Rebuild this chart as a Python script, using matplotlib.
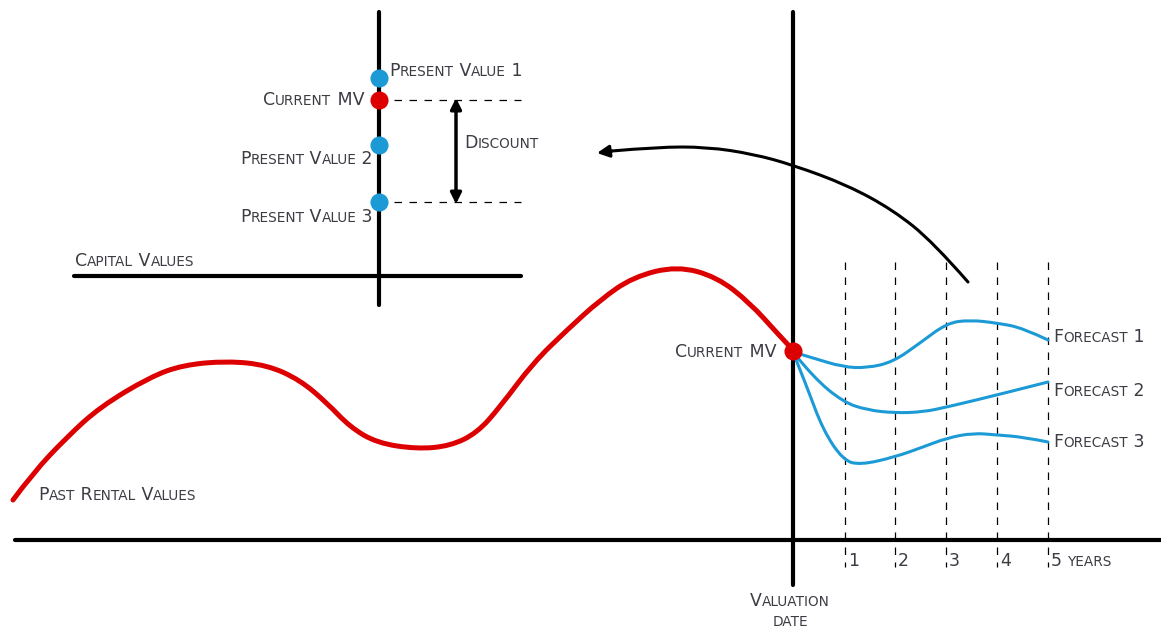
import matplotlib
matplotlib.use("Agg")
import matplotlib.pyplot as plt
from matplotlib.path import Path
from matplotlib.patches import PathPatch
from matplotlib.offsetbox import TextArea, HPacker, AnnotationBbox

# diagram drawn in image pixel space (x right, y down)
W, H = 1161, 628

past_x = [13, 33, 67, 100, 150, 183, 227, 267, 300, 327, 350, 377, 417, 450,
          477, 500, 533, 567, 600, 633, 677, 717, 750, 777, 793]
past_y = [500, 473, 437, 407, 377, 365, 361, 365, 380, 403, 427, 443, 449, 446,
          433, 407, 363, 330, 300, 277, 266, 277, 303, 333, 350]

f1_x = [793, 813, 843, 867, 893, 920, 947, 970, 997, 1023, 1048]
f1_y = [352, 358, 367, 368, 362, 343, 323, 320, 323, 328, 340]
f2_x = [793, 813, 843, 867, 895, 923, 947, 997, 1048]
f2_y = [352, 377, 402, 410, 413, 412, 407, 395, 382]
f3_x = [793, 807, 823, 843, 860, 895, 923, 947, 973, 997, 1023, 1048]
f3_y = [352, 387, 430, 460, 465, 457, 447, 438, 433, 435, 437, 442]

arrow_x = [968, 933, 893, 847, 793, 753, 707, 657, 612]
arrow_y = [282, 242, 210, 185, 165, 154, 147, 147, 151]

year_x = [845, 895, 946, 997, 1048]
year_labels = ["1", "2", "3", "4", "5 years"]

pv_y = [78, 145, 202]
pv_labels = ["Present Value 1", "Present Value 2", "Present Value 3"]
mv_y = 100

BLACK = "#000000"
RED = "#dd0000"
BLUE = "#1c9ad6"
TXT = "#3c3c44"


def smooth(ax, xs, ys, **kw):
    # quadratic bezier through midpoints, read points act as control points
    verts = [(xs[0], ys[0])]
    codes = [Path.MOVETO]
    n = len(xs)
    for i in range(1, n - 1):
        if i < n - 2:
            end = ((xs[i] + xs[i + 1]) / 2, (ys[i] + ys[i + 1]) / 2)
        else:
            end = (xs[i + 1], ys[i + 1])
        verts += [(xs[i], ys[i]), end]
        codes += [Path.CURVE3, Path.CURVE3]
    ax.add_patch(PathPatch(Path(verts, codes), fill=False, capstyle="round",
                           joinstyle="round", **kw))


def sc_text(ax, x, y, s, align=(0, 0.5), big=12.5, small=9.8):
    # fake small caps: capitals/digits big, lowercase as small capitals
    runs = []
    for ch in s:
        size = small if ch.islower() else big
        if runs and runs[-1][1] == size:
            runs[-1][0] += ch.upper()
        else:
            runs.append([ch.upper(), size])
    kids = [TextArea(t, textprops=dict(fontsize=sz, color=TXT, family="DejaVu Sans"))
            for t, sz in runs]
    box = HPacker(children=kids, align="baseline", pad=0, sep=0)
    ab = AnnotationBbox(box, (x, y), xycoords="data", box_alignment=align,
                        frameon=False, pad=0)
    ax.add_artist(ab)


fig = plt.figure(figsize=(W / 100, H / 100), dpi=100)
ax = fig.add_axes([0, 0, 1, 1])
ax.set_xlim(0, W)
ax.set_ylim(H, 0)
ax.axis("off")

# main axes
ax.plot([15, W], [540, 540], color=BLACK, lw=3, solid_capstyle="round")
ax.plot([793, 793], [12, 585], color=BLACK, lw=3, solid_capstyle="round")

# capital values axes
ax.plot([379, 379], [12, 305], color=BLACK, lw=3, solid_capstyle="round")
ax.plot([74, 521], [276, 276], color=BLACK, lw=3, solid_capstyle="round")

# year gridlines
for x in year_x:
    ax.plot([x, x], [262, 567], color=BLACK, lw=0.9, dashes=(6, 6))

# forecasts
for fx, fy in [(f1_x, f1_y), (f2_x, f2_y), (f3_x, f3_y)]:
    smooth(ax, fx, fy, edgecolor=BLUE, lw=2.2, zorder=3)

# past rental values
smooth(ax, past_x, past_y, edgecolor=RED, lw=3.6, zorder=3)
ax.scatter([793], [351], s=170, color=RED, zorder=5, linewidths=0)

# discounting arrow
smooth(ax, arrow_x, arrow_y, edgecolor=BLACK, lw=2.2, zorder=3)
ax.annotate("", xy=(597, 153), xytext=(arrow_x[-1], arrow_y[-1]),
            arrowprops=dict(arrowstyle="-|>", color=BLACK, lw=2.2, mutation_scale=18,
                            shrinkA=0, shrinkB=0))

# present values
for yy in [mv_y, pv_y[2]]:
    ax.plot([379, 521], [yy, yy], color=BLACK, lw=0.9, dashes=(6, 6))
ax.scatter([379] * 3, pv_y, s=170, color=BLUE, zorder=5, linewidths=0)
ax.scatter([379], [mv_y], s=170, color=RED, zorder=5, linewidths=0)
ax.annotate("", xy=(456, 98), xytext=(456, 204),
            arrowprops=dict(arrowstyle="<|-|>", color=BLACK, lw=2.5, mutation_scale=16,
                            shrinkA=0, shrinkB=0))

# labels
sc_text(ax, 389, 71, pv_labels[0])
sc_text(ax, 364, 100, "Current MV", align=(1, 0.5))
sc_text(ax, 373, 159, pv_labels[1], align=(1, 0.5))
sc_text(ax, 373, 217, pv_labels[2], align=(1, 0.5))
sc_text(ax, 464, 143, "Discount")
sc_text(ax, 75, 261, "Capital Values")
sc_text(ax, 38, 495, "Past Rental Values")
sc_text(ax, 776, 352, "Current MV", align=(1, 0.5))
sc_text(ax, 1053, 337, "Forecast 1")
sc_text(ax, 1053, 391, "Forecast 2")
sc_text(ax, 1053, 442, "Forecast 3")
for x, lab in zip(year_x, year_labels):
    sc_text(ax, x + 3, 561, lab)
sc_text(ax, 790, 601, "Valuation", align=(0.5, 0.5))
sc_text(ax, 790, 622, "date", align=(0.5, 0.5))

fig.savefig("out.png", dpi=100, facecolor="white")
